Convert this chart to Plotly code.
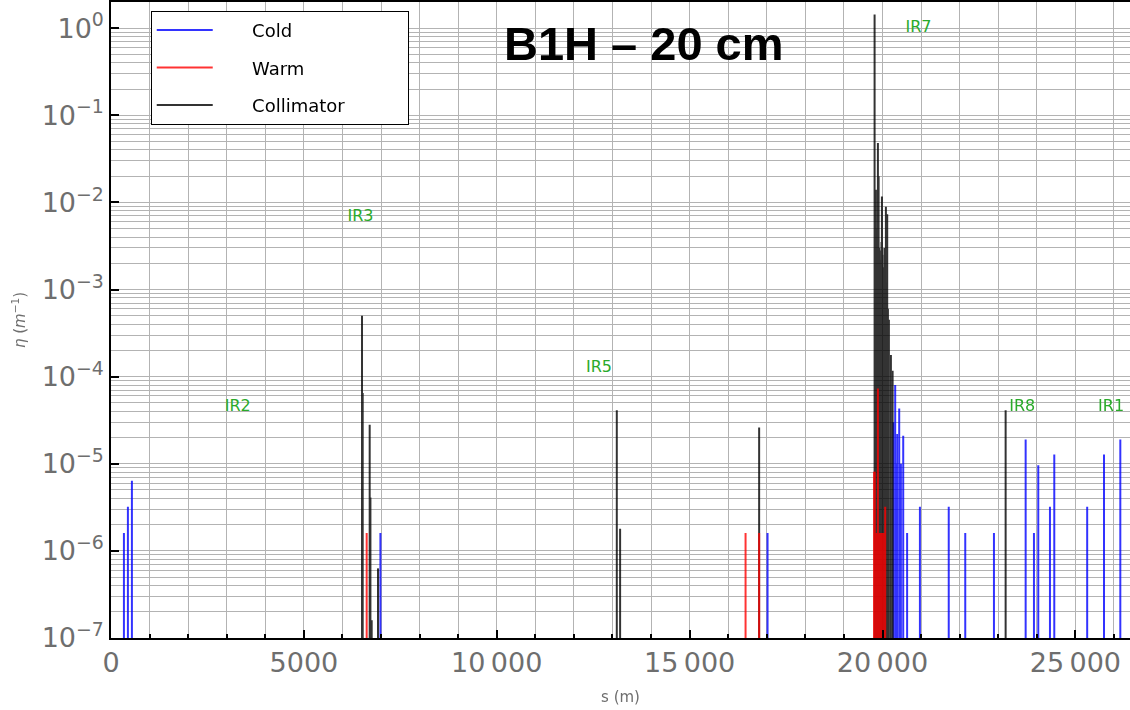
import math
import plotly.graph_objects as go

# ---------------- data ----------------
cold_s = [335, 438, 542, 6984, 17020, 20288, 20329, 20360, 20381, 20433, 20477,
          20537, 20638, 20970, 21717, 22145, 22889, 23711, 23926, 24038, 24341,
          24453, 25306, 25742, 26165]
cold_eta = [1.6e-6, 3.2e-6, 6.4e-6, 1.6e-6, 1.6e-6, 3.0e-5, 8.0e-5, 1.0e-5, 2.2e-5,
            4.3e-5, 1.0e-5, 2.1e-5, 1.6e-6, 3.2e-6, 3.2e-6, 1.6e-6, 1.6e-6, 1.9e-5,
            1.6e-6, 9.6e-6, 3.2e-6, 1.28e-5, 3.2e-6, 1.28e-5, 1.9e-5]

warm_s = [6628, 16450, 16802, 19780, 19800, 19829, 19855, 19881, 19905, 19932,
          19960, 19985, 20010, 20045, 20070]
warm_eta = [1.6e-6, 1.6e-6, 1.6e-6, 8.1e-6, 8.1e-6, 1.6e-6, 1.6e-6, 7.3e-5, 1.6e-6,
            1.6e-6, 1.6e-6, 1.6e-6, 1.6e-6, 1.6e-6, 3.2e-6]

coll_s = [6507, 6525, 6706, 6725, 6758, 6922, 13112, 13198, 16802, 19795, 19811,
          19829, 19850, 19870, 19881, 19899, 19915, 19932, 19945, 19960, 19975,
          19985, 20000, 20020, 20036, 20050, 20070, 20088, 20105, 20122, 20140,
          20166, 20218, 20262, 23192]
coll_eta = [5.0e-4, 6.5e-5, 2.8e-5, 4.1e-6, 1.6e-7, 6.3e-7, 4.1e-5, 1.8e-6, 2.6e-5,
            1.43, 6.3e-3, 1.4e-2, 5.0e-3, 4.0e-3, 4.8e-2, 2.0e-2, 3.0e-3, 2.8e-3,
            2.2e-3, 1.0e-3, 3.5e-3, 1.17e-2, 2.5e-3, 1.8e-3, 1.5e-3, 3.0e-3, 2.0e-3,
            8.9e-3, 1.2e-3, 7.3e-3, 6.0e-4, 4.5e-4, 1.77e-4, 1.17e-4, 4.1e-5]

ir_names = ["IR2", "IR3", "IR5", "IR7", "IR8", "IR1"]
ir_s = [3286, 6468, 12652, 20932, 23622, 25925]
ir_eta = [4.5e-5, 6.8e-3, 1.26e-4, 1.0, 4.5e-5, 4.5e-5]

x_tickvals = [0, 5000, 10000, 15000, 20000, 25000]
x_ticktext = ["0", "5000", "10\u2009000", "15\u2009000", "20\u2009000", "25\u2009000"]
y_exponents = [-7, -6, -5, -4, -3, -2, -1, 0]

BASE = 1e-9  # below the axis floor; lines are clipped at the axis


def stems(xs, ys):
    px, py = [], []
    for s, v in zip(xs, ys):
        px += [s, s, None]
        py += [BASE, v, None]
    return px, py


fig = go.Figure()

NB = "\u00a0"
LEAD = NB * 6
for name, xs, ys, col, rank, trail in [
    ("Cold", cold_s, cold_eta, "#0000ff", 1, 0),
    ("Collimator", coll_s, coll_eta, "#000000", 3, 10),
    ("Warm", warm_s, warm_eta, "#ff0000", 2, 0),
]:
    px, py = stems(xs, ys)
    fig.add_trace(go.Scatter(
        x=px, y=py, mode="lines", name=LEAD + name + NB * trail,
        legendrank=rank, legendgroup=name,
        line=dict(color=col, width=2), opacity=0.8,
    ))

fig.add_trace(go.Scatter(
    x=ir_s, y=ir_eta, mode="text", text=ir_names, showlegend=False,
    textfont=dict(family="DejaVu Sans", size=16, color="#2aaa2a"),
    cliponaxis=False, hoverinfo="skip",
))

grid_col = "#b3b3b3"
tick_font = dict(family="DejaVu Sans", size=27, color="#6e6e6e")

fig.update_layout(
    width=1130, height=710,
    margin=dict(l=111, r=0, t=2, b=72),
    paper_bgcolor="white", plot_bgcolor="white",
    font=dict(family="DejaVu Sans", color="#6e6e6e"),
    legend=dict(
        x=0.039, y=0.986, xanchor="left", yanchor="top",
        bgcolor="white", bordercolor="black", borderwidth=1,
        font=dict(family="DejaVu Sans", size=18, color="black"),
        tracegroupgap=11, itemwidth=56,
    ),
    xaxis=dict(
        range=[0, 26416], tickvals=x_tickvals, ticktext=x_ticktext,
        showgrid=True, gridcolor=grid_col, gridwidth=1.2,
        ticks="inside", ticklen=8, tickcolor="black", tickwidth=1.5,
        minor=dict(dtick=1000, showgrid=True, gridcolor=grid_col, gridwidth=1.2,
                   ticks="inside", ticklen=4, tickcolor="black"),
        showline=True, linecolor="black", linewidth=1.5, mirror=True,
        tickfont=tick_font, zeroline=False,
        title=dict(text="s (m)", font=dict(size=15, color="#6e6e6e"), standoff=14),
    ),
    yaxis=dict(
        type="log", range=[-7, 0.3],
        tickvals=[10 ** e for e in y_exponents],
        ticktext=["10<sup>\u2212%d</sup>" % (-e) if e < 0 else "10<sup>%d</sup>" % e
                  for e in y_exponents],
        showgrid=True, gridcolor=grid_col, gridwidth=1.2,
        ticks="inside", ticklen=8, tickcolor="black", tickwidth=1.5,
        minor=dict(dtick="D1", showgrid=True, gridcolor=grid_col, gridwidth=1.2),
        showline=True, linecolor="black", linewidth=1.5, mirror=False,
        tickfont=tick_font, zeroline=False,
        title=dict(text="<i>\u03b7</i> (<i>m</i><sup>\u22121</sup>)",
                   font=dict(size=15, color="#6e6e6e"), standoff=12),
    ),
    annotations=[dict(
        text="<b>B1H \u2013 20 cm</b>", xref="paper", yref="paper",
        x=0.523, y=0.935, xanchor="center", yanchor="middle", showarrow=False,
        font=dict(family="Liberation Sans", size=47, color="black"),
    )],
)

fig.write_html("out.html")
